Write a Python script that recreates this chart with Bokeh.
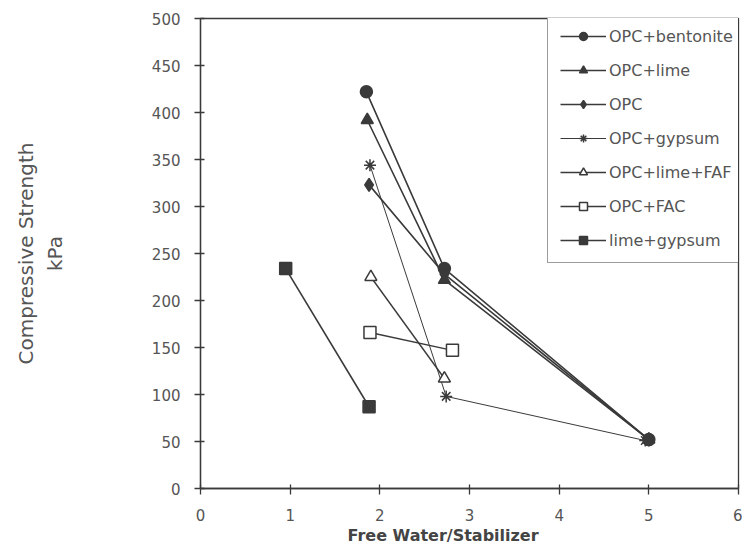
from bokeh.plotting import figure
from bokeh.models import Range1d, Legend, FixedTicker, Title
from bokeh.embed import file_html
from bokeh.resources import INLINE

# Data
bent_x = [1.85, 2.72, 5.0]
bent_y = [422, 234, 52]
lime_x = [1.86, 2.72, 5.0]
lime_y = [392, 222, 52]
opc_x = [1.88, 2.72, 5.0]
opc_y = [323, 228, 52]
gyp_x = [1.89, 2.74, 4.96]
gyp_y = [344, 98, 51]
faf_x = [1.90, 2.72]
faf_y = [225, 117]
fac_x = [1.89, 2.81]
fac_y = [166, 147]
lg_x = [0.95, 1.88]
lg_y = [234, 87]

x_ticks = [0, 1, 2, 3, 4, 5, 6]
y_ticks = [0, 50, 100, 150, 200, 250, 300, 350, 400, 450, 500]

INK = "#3a3a3a"
TXT = "#555555"
FONT = "DejaVu Sans"

p = figure(width=742, height=546, output_backend="svg", toolbar_location=None,
           x_range=Range1d(0, 6), y_range=Range1d(0, 500),
           min_border_left=200, min_border_right=4, min_border_top=18, min_border_bottom=58)
p.frame_width = 538
p.frame_height = 470

p.xgrid.visible = False
p.ygrid.visible = False
p.outline_line_color = INK
p.outline_line_width = 1.3
p.background_fill_color = "white"
p.border_fill_color = "white"

series = [
    ("OPC+bentonite", bent_x, bent_y, "circle", True, 1.6, 12),
    ("OPC+lime", lime_x, lime_y, "triangle", True, 1.6, 12),
    ("OPC", opc_x, opc_y, "diamond", True, 1.6, 13),
    ("OPC+gypsum", gyp_x, gyp_y, "asterisk", False, 1.0, 12),
    ("OPC+lime+FAF", faf_x, faf_y, "triangle", False, 1.4, 12),
    ("OPC+FAC", fac_x, fac_y, "square", False, 1.4, 12),
    ("lime+gypsum", lg_x, lg_y, "square", True, 1.6, 12),
]

items = []
for name, xs, ys, marker, filled, lw, size in series:
    r1 = p.line(xs, ys, line_color=INK, line_width=lw)
    r2 = p.scatter(xs, ys, marker=marker, size=size, line_color=INK, line_width=1.5,
                   fill_color=INK if filled else "white")
    items.append((name, [r1, r2]))

legend = Legend(items=items, location=(347, 225))
legend.border_line_color = INK
legend.border_line_width = 1.3
legend.background_fill_color = "white"
legend.background_fill_alpha = 1.0
legend.label_text_font = FONT
legend.label_text_font_size = "16px"
legend.label_text_color = TXT
legend.glyph_width = 46
legend.glyph_height = 20
legend.label_height = 20
legend.label_standoff = 3
legend.spacing = 14
legend.padding = 12
legend.margin = 0
p.add_layout(legend, "center")

for ax in (p.xaxis[0], p.yaxis[0]):
    ax.axis_line_color = INK
    ax.axis_line_width = 1.3
    ax.major_tick_line_color = INK
    ax.major_tick_line_width = 1.3
    ax.major_tick_in = 4
    ax.major_tick_out = 6
    ax.minor_tick_line_color = None
    ax.major_label_text_font = FONT
    ax.major_label_text_font_size = "15px"
    ax.major_label_text_color = TXT

p.xaxis.ticker = FixedTicker(ticks=x_ticks)
p.yaxis.ticker = FixedTicker(ticks=y_ticks)
p.xaxis.major_label_standoff = 14
p.yaxis.major_label_standoff = 14

xtitle = Title(text="Free Water/Stabilizer", align="left", offset=147,
               text_font=FONT, text_font_style="bold", text_font_size="16px",
               text_color="#444444", standoff=0)
p.add_layout(xtitle, "below")

p.yaxis.axis_label = "Compressive Strength\nkPa"
p.yaxis.axis_label_text_font = FONT
p.yaxis.axis_label_text_font_style = "normal"
p.yaxis.axis_label_text_font_size = "20px"
p.yaxis.axis_label_text_color = TXT
p.yaxis.axis_label_text_align = "center"
p.yaxis.axis_label_standoff = 82

open("out.html", "w").write(file_html(p, INLINE))
